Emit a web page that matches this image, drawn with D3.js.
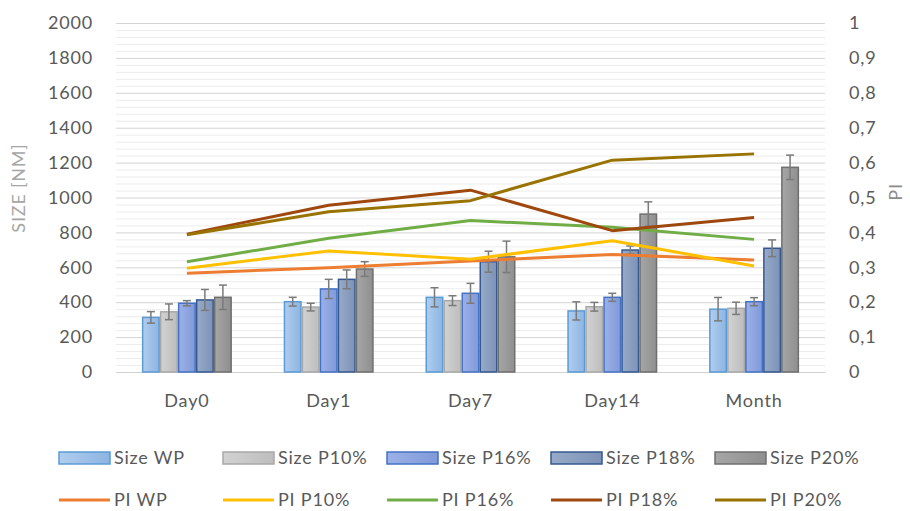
<!DOCTYPE html>
<html>
<head>
<meta charset="utf-8">
<script src="https://cdn.jsdelivr.net/npm/d3@7"></script>
<style>
  html, body { margin: 0; padding: 0; background: #fff; }
  svg text { font-family: Lato, "Open Sans", sans-serif; fill: #595959; letter-spacing: 0.8px; }
</style>
</head>
<body>
<svg id="chart"></svg>
<script>
// categories and series
const categories = ['Day0', 'Day1', 'Day7', 'Day14', 'Month'];
const sizeSeries = ['Size WP', 'Size P10%', 'Size P16%', 'Size P18%', 'Size P20%'];
const piSeries = ['PI WP', 'PI P10%', 'PI P16%', 'PI P18%', 'PI P20%'];

// size values (nm), one array per series, across categories
const sizeWP  = [313, 403, 428, 350, 360];
const sizeP10 = [345, 372, 409, 374, 365];
const sizeP16 = [394, 476, 451, 428, 403];
const sizeP18 = [413, 531, 632, 699, 709];
const sizeP20 = [428, 590, 660, 905, 1173];

// error bar half widths
const errWP  = [33, 25, 55, 52, 67];
const errP10 = [45, 22, 28, 25, 35];
const errP16 = [15, 55, 57, 23, 23];
const errP18 = [60, 54, 60, 23, 48];
const errP20 = [70, 42, 90, 70, 70];

// PI values
const piWP  = [0.283, 0.299, 0.318, 0.337, 0.321];
const piP10 = [0.297, 0.347, 0.323, 0.376, 0.304];
const piP16 = [0.316, 0.383, 0.434, 0.415, 0.380];
const piP18 = [0.395, 0.478, 0.521, 0.405, 0.443];
const piP20 = [0.393, 0.459, 0.491, 0.607, 0.625];

const leftTicks = [0, 200, 400, 600, 800, 1000, 1200, 1400, 1600, 1800, 2000];
const rightTicks = [0, 0.1, 0.2, 0.3, 0.4, 0.5, 0.6, 0.7, 0.8, 0.9, 1];

const sizeValues = [sizeWP, sizeP10, sizeP16, sizeP18, sizeP20];
const sizeErrors = [errWP, errP10, errP16, errP18, errP20];
const piValues = [piWP, piP10, piP16, piP18, piP20];

const barFill   = ['#b0cdee', '#d2d2d2', '#9cb1e8', '#97aac8', '#a6a6a6'];
const barFill2  = ['#8db4e2', '#bdbdbd', '#8099d8', '#7d92b6', '#8f8f8f'];
const barStroke = ['#5b9bd5', '#a8a8a8', '#4472c4', '#35598f', '#6f6f6f'];
const lineColor = ['#ed7d31', '#ffc000', '#70ad47', '#9e480e', '#997300'];

const width = 910, height = 511;
const plotLeft = 116, plotRight = 825, plotTop = 23, plotBottom = 372;
const fontSize = '18px';

const svg = d3.select('#chart').attr('width', width).attr('height', height);

const x = d3.scaleBand().domain(categories).range([plotLeft, plotRight]);
const xs = d3.scaleBand().domain(sizeSeries).range([-45, 45]);
const y = d3.scaleLinear().domain([0, 2000]).range([plotBottom, plotTop]);
const y2 = d3.scaleLinear().domain([0, 1]).range([plotBottom, plotTop]);

// gradients
const defs = svg.append('defs');
sizeSeries.forEach((s, i) => {
  const g = defs.append('linearGradient').attr('id', 'grad' + i)
    .attr('x1', 0).attr('x2', 1).attr('y1', 0).attr('y2', 0);
  g.append('stop').attr('offset', '0%').attr('stop-color', barFill[i]);
  g.append('stop').attr('offset', '100%').attr('stop-color', barFill2[i]);
});

// gridlines
const minor = d3.range(0, 2001, 40).filter(v => v % 200 !== 0);
svg.append('g').selectAll('line').data(minor).enter().append('line')
  .attr('x1', plotLeft).attr('x2', plotRight)
  .attr('y1', d => y(d) + 0.5).attr('y2', d => y(d) + 0.5)
  .attr('stroke', '#ececec').attr('stroke-width', 1);
svg.append('g').selectAll('line').data(leftTicks).enter().append('line')
  .attr('x1', plotLeft).attr('x2', plotRight)
  .attr('y1', d => y(d) + 0.5).attr('y2', d => y(d) + 0.5)
  .attr('stroke', '#d4d4d4').attr('stroke-width', 1);

// left axis
const yAxis = d3.axisLeft(y).tickValues(leftTicks).tickSize(0).tickPadding(0)
  .tickFormat(d => String(d));
svg.append('g').attr('transform', 'translate(93,0)').call(yAxis)
  .call(g => g.select('.domain').remove())
  .selectAll('text').style('font-size', fontSize).attr('fill', '#595959');

// right axis
const y2Axis = d3.axisRight(y2).tickValues(rightTicks).tickSize(0).tickPadding(0)
  .tickFormat(d => String(d).replace('.', ','));
svg.append('g').attr('transform', 'translate(849,0)').call(y2Axis)
  .call(g => g.select('.domain').remove())
  .selectAll('text').style('font-size', fontSize).attr('fill', '#595959');

// bottom axis
const xAxis = d3.axisBottom(x).tickSize(0).tickPadding(22);
svg.append('g').attr('transform', `translate(0,${plotBottom})`).call(xAxis)
  .call(g => g.select('.domain').attr('stroke', '#d0d0d0'))
  .selectAll('text').style('font-size', fontSize).attr('fill', '#595959');

// axis titles
svg.append('text').attr('transform', 'translate(25,188) rotate(-90)')
  .attr('text-anchor', 'middle').style('font-size', fontSize).style('fill', '#a6a6a6')
  .text('SIZE [NM]');
svg.append('text').attr('transform', 'translate(902,192) rotate(-90)')
  .attr('text-anchor', 'middle').style('font-size', fontSize).style('fill', '#8c8c8c')
  .text('PI');

// bars
sizeSeries.forEach((s, i) => {
  const g = svg.append('g');
  g.selectAll('rect').data(categories).enter().append('rect')
    .attr('x', (c) => x(c) + x.bandwidth() / 2 + xs(s) + 0.75)
    .attr('width', xs.bandwidth() - 1.5)
    .attr('y', (c, j) => y(sizeValues[i][j]))
    .attr('height', (c, j) => plotBottom - y(sizeValues[i][j]))
    .attr('fill', `url(#grad${i})`)
    .attr('stroke', barStroke[i]).attr('stroke-width', 1.5);
});

// error bars
sizeSeries.forEach((s, i) => {
  const g = svg.append('g').attr('stroke', '#7a7a7a').attr('stroke-width', 1.5);
  categories.forEach((c, j) => {
    const cx = x(c) + x.bandwidth() / 2 + xs(s) + xs.bandwidth() / 2;
    const v = sizeValues[i][j], e = sizeErrors[i][j];
    g.append('line').attr('x1', cx).attr('x2', cx).attr('y1', y(v + e)).attr('y2', y(v - e));
    g.append('line').attr('x1', cx - 4).attr('x2', cx + 4).attr('y1', y(v + e)).attr('y2', y(v + e));
    g.append('line').attr('x1', cx - 4).attr('x2', cx + 4).attr('y1', y(v - e)).attr('y2', y(v - e));
  });
});

// PI lines
const line = d3.line()
  .x((d, j) => x(categories[j]) + x.bandwidth() / 2)
  .y(d => y2(d));
piSeries.forEach((s, i) => {
  svg.append('path').datum(piValues[i])
    .attr('d', line).attr('fill', 'none')
    .attr('stroke', lineColor[i]).attr('stroke-width', 3)
    .attr('stroke-linejoin', 'round');
});

// legend
const legX = i => 59 + i * 164;
const leg1 = svg.append('g');
sizeSeries.forEach((s, i) => {
  leg1.append('rect').attr('x', legX(i)).attr('y', 452).attr('width', 51).attr('height', 12)
    .attr('fill', `url(#grad${i})`).attr('stroke', barStroke[i]).attr('stroke-width', 1.5);
  leg1.append('text').attr('x', legX(i) + 55).attr('y', 464)
    .style('font-size', fontSize).text(s);
});
const leg2 = svg.append('g');
piSeries.forEach((s, i) => {
  leg2.append('line').attr('x1', legX(i)).attr('x2', legX(i) + 51)
    .attr('y1', 500).attr('y2', 500)
    .attr('stroke', lineColor[i]).attr('stroke-width', 3);
  leg2.append('text').attr('x', legX(i) + 55).attr('y', 506)
    .style('font-size', fontSize).text(s);
});
</script>
</body>
</html>
